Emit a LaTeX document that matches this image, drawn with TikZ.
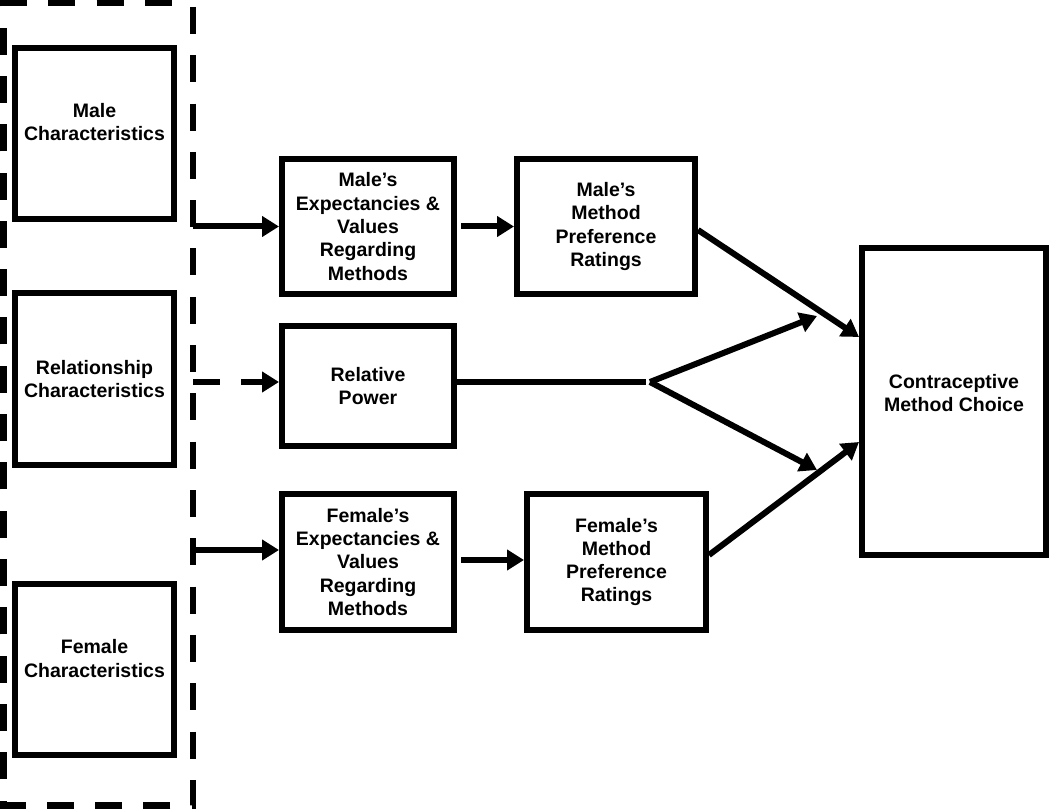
\documentclass[tikz,border=0pt]{standalone}
\usepackage{fontspec}
\setmainfont{Liberation Sans}
\usetikzlibrary{arrows.meta}

\tikzset{
  box/.style={draw, line width=6pt, align=center, inner sep=0pt,
    font=\bfseries\fontsize{19.5}{23.3}\selectfont},
  flow/.style={line width=6pt, -{Triangle[length=17pt,width=20pt]}},
}

\begin{document}
\begin{tikzpicture}[x=1pt,y=-1pt]
\useasboundingbox (0,0) rectangle (1050,810);
% dashed frame round the characteristics
\coordinate (gne) at (193,3);
\draw[line width=6.5pt, dash pattern=on 27pt off 21.3pt, dash phase=44.3pt]
  (gne) -- (193,805.5) -- (3.5,805.5) -- (3.5,3) -- cycle;

% characteristics
\node[box, minimum width=159pt, minimum height=171pt, text depth=23pt] (male) at (94.5,133.5) {Male\\Characteristics};
\node[box, minimum width=159pt, minimum height=172pt] (rel) at (94.5,379) {Relationship\\Characteristics};
\node[box, minimum width=159pt, minimum height=171pt, text depth=22pt] (female) at (94.5,669.5) {Female\\Characteristics};

% mediators
\node[box, minimum width=172pt, minimum height=135pt] (mexp) at (368,226.5) {Male’s\\Expectancies \&\\Values\\Regarding\\Methods};
\node[box, minimum width=172pt, minimum height=120pt] (rp) at (368,386) {Relative\\Power};
\node[box, minimum width=172pt, minimum height=136pt] (fexp) at (368,562) {Female’s\\Expectancies \&\\Values\\Regarding\\Methods};
\node[box, minimum width=178pt, minimum height=135pt] (mpref) at (606,226.5) {Male’s\\Method\\Preference\\Ratings};
\node[box, minimum width=179pt, minimum height=136pt] (fpref) at (616.5,562) {Female’s\\Method\\Preference\\Ratings};

% outcome
\node[box, minimum width=184pt, minimum height=307pt, text depth=17pt] (choice) at (954,401.5) {Contraceptive\\Method Choice};

% connectors
\coordinate (mexpin) at (mexp.west);
\coordinate (rpin) at ([yshift=4pt]rp.west);
\coordinate (fexpin) at ([yshift=12pt]fexp.west);
\draw[flow] (mexpin -| gne) -- (mexpin);
\draw[flow, dash pattern=on 27pt off 21pt] (rpin -| gne) -- (rpin);
\draw[flow] (fexpin -| gne) -- (fexpin);
\draw[flow, shorten <=4pt] (mexp.east) -- (mpref.west);
\draw[flow, shorten <=4pt] ([yshift=2pt]fexp.east) -- ([yshift=2pt]fpref.west);

\coordinate (split) at (650,382);
\coordinate (mtip) at (817,316);
\coordinate (ftip) at (817,470);
\draw[line width=6pt, shorten >=4pt] ([yshift=4pt]rp.east) -- (split);
\draw[flow] (split) -- (mtip);
\draw[flow] (split) -- (ftip);
\draw[flow] ([yshift=-3.5pt]mpref.east) -- ([yshift=64.5pt]choice.west);
\draw[flow] ([yshift=7pt]fpref.east) -- ([yshift=-40.5pt]choice.west);
\end{tikzpicture}
\end{document}
